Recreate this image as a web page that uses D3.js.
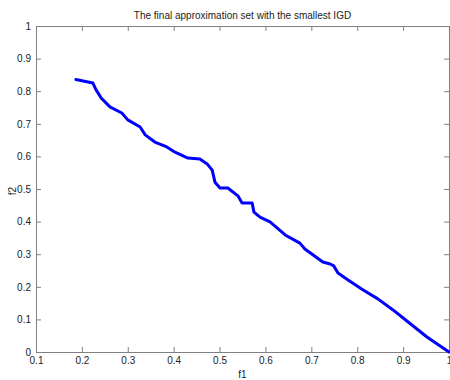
<!DOCTYPE html>
<html>
<head>
<meta charset="utf-8">
<script src="https://cdn.jsdelivr.net/npm/d3@7"></script>
<style>
  body { margin: 0; background: #fff; }
  text { font-family: "Liberation Sans", Arial, sans-serif; fill: #222; }
</style>
</head>
<body>
<div id="chart-area"></div>
<script>
// curve points
var f1 = [0.187, 0.224, 0.231, 0.242, 0.261, 0.287, 0.300, 0.327, 0.338, 0.359,
          0.385, 0.403, 0.431, 0.457, 0.473, 0.484, 0.490, 0.501, 0.518, 0.540,
          0.549, 0.571, 0.575, 0.588, 0.610, 0.643, 0.675, 0.686, 0.725, 0.741,
          0.749, 0.758, 0.780, 0.813, 0.845, 0.878, 0.911, 0.952, 1.000];
var f2 = [0.836, 0.825, 0.804, 0.779, 0.752, 0.733, 0.712, 0.690, 0.666, 0.644,
          0.629, 0.613, 0.595, 0.592, 0.577, 0.558, 0.521, 0.503, 0.503, 0.479,
          0.457, 0.457, 0.429, 0.414, 0.399, 0.359, 0.334, 0.316, 0.276, 0.270,
          0.264, 0.242, 0.221, 0.190, 0.163, 0.129, 0.092, 0.046, 0.000];
var xTicks = [0.1, 0.2, 0.3, 0.4, 0.5, 0.6, 0.7, 0.8, 0.9, 1];
var yTicks = [0, 0.1, 0.2, 0.3, 0.4, 0.5, 0.6, 0.7, 0.8, 0.9, 1];

var margin = { top: 26, right: 1, bottom: 28, left: 36 };
var W = 450, H = 380;
var width = W - margin.left - margin.right;
var height = H - margin.top - margin.bottom;

var svg = d3.select("#chart-area").append("svg")
    .attr("width", W)
    .attr("height", H);

var g = svg.append("g")
    .attr("transform", "translate(" + margin.left + "," + margin.top + ")");

var x = d3.scaleLinear().domain([0.1, 1]).range([0, width]);
var y = d3.scaleLinear().domain([0, 1]).range([height, 0]);

var fmt = function (d) { return String(+d.toFixed(1)); };

// bottom axis (ticks inward)
g.append("g").attr("transform", "translate(0," + height + ")")
    .call(d3.axisBottom(x).tickValues(xTicks).tickSizeInner(-5).tickSizeOuter(0).tickPadding(5).tickFormat(fmt));
// top axis, ticks only
g.append("g")
    .call(d3.axisTop(x).tickValues(xTicks).tickSizeInner(-5).tickSizeOuter(0).tickFormat(""));
// left axis
g.append("g")
    .call(d3.axisLeft(y).tickValues(yTicks).tickSizeInner(-5).tickSizeOuter(0).tickPadding(5).tickFormat(fmt));
// right axis, ticks only
g.append("g").attr("transform", "translate(" + width + ",0)")
    .call(d3.axisRight(y).tickValues(yTicks).tickSizeInner(-5).tickSizeOuter(0).tickFormat(""));

g.selectAll(".domain, .tick line").attr("stroke", "#808080");
g.selectAll(".tick text").style("font-size", "10px").attr("fill", "#222");

// the front
var pts = f1.map(function (v, i) { return [v, f2[i]]; });
var line = d3.line()
    .x(function (d) { return x(d[0]); })
    .y(function (d) { return y(d[1]); });

g.append("path")
    .datum(pts)
    .attr("d", line)
    .attr("fill", "none")
    .attr("stroke", "#0000ff")
    .attr("stroke-width", 3)
    .attr("stroke-linejoin", "round")
    .attr("stroke-linecap", "round");

// title and axis labels
svg.append("text")
    .attr("x", margin.left + width / 2)
    .attr("y", 19)
    .attr("text-anchor", "middle")
    .style("font-size", "10px")
    .text("The final approximation set with the smallest IGD");

svg.append("text")
    .attr("x", margin.left + width / 2)
    .attr("y", 378)
    .attr("text-anchor", "middle")
    .style("font-size", "10px")
    .text("f1");

svg.append("text")
    .attr("transform", "translate(16," + (margin.top + height / 2 + 2) + ") rotate(-90)")
    .attr("text-anchor", "middle")
    .style("font-size", "10px")
    .text("f2");
</script>
</body>
</html>
